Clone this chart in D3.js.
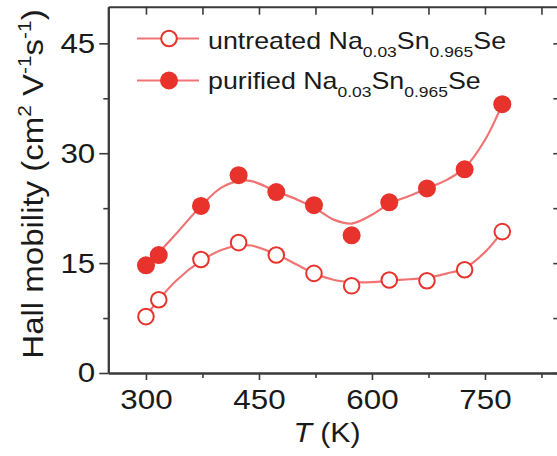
<!DOCTYPE html>
<html><head><meta charset="utf-8">
<script src="https://cdn.jsdelivr.net/npm/d3@7"></script>
<style>body{margin:0;background:#fff}svg{display:block}text{font-family:"Liberation Sans",Arial,sans-serif;fill:#1a1a1a}</style>
</head><body><svg id="c" width="557" height="456"></svg>
<script>
// Data
const temps = [300, 317, 373, 423, 473, 523, 573, 623, 673, 723, 773];
const untreated = [7.7, 10.0, 15.5, 17.8, 16.1, 13.6, 11.9, 12.7, 12.6, 14.1, 19.3];
const purified = [14.7, 16.1, 22.8, 27.0, 24.7, 22.9, 18.8, 23.3, 25.2, 27.8, 36.7];
// fitted guide curves
const fitT = [300, 317, 340, 373, 400, 423, 440, 473, 500, 523, 550, 573, 600, 623, 650, 673, 700, 723, 750, 773];
const fitUntreated = [7.8, 10.0, 12.6, 15.3, 16.8, 17.4, 17.4, 16.2, 14.8, 13.6, 12.7, 12.4, 12.4, 12.6, 12.8, 13.0, 13.6, 14.3, 16.5, 19.3];
const fitPurified = [15.0, 16.5, 19.0, 22.8, 25.3, 26.2, 26.2, 24.8, 23.7, 22.6, 20.9, 20.4, 21.6, 23.1, 24.2, 25.2, 26.4, 28.0, 31.8, 36.7];
const xTicks = [300, 450, 600, 750];
const xMinor = [375, 525, 675, 825];
const yTicks = [0, 15, 30, 45];
const yMinor = [7.5, 22.5, 37.5];

const svg = d3.select("#c");
const x = d3.scaleLinear().domain([250, 850]).range([108.3, 560.3]);
const y = d3.scaleLinear().domain([0, 50]).range([373, 6.7]);
const axisCol = "#3a3a3a";
const lineCol = "#f07474";
const markCol = "#e8322c";
const FONT = "'Liberation Sans', Arial, sans-serif";

// lines
const line = d3.line().x(d => x(d[0])).y(d => y(d[1])).curve(d3.curveCatmullRom);
svg.append("path").datum(fitT.map((t, i) => [t, fitUntreated[i]]))
  .attr("d", line).attr("fill", "none").attr("stroke", lineCol).attr("stroke-width", 2.2);
svg.append("path").datum(fitT.map((t, i) => [t, fitPurified[i]]))
  .attr("d", line).attr("fill", "none").attr("stroke", lineCol).attr("stroke-width", 2.2);

// markers
svg.append("g").selectAll("circle").data(temps.map((t, i) => [t, untreated[i]])).join("circle")
  .attr("cx", d => x(d[0])).attr("cy", d => y(d[1])).attr("r", 7.8)
  .attr("fill", "#fff").attr("stroke", markCol).attr("stroke-width", 2);
svg.append("g").selectAll("circle").data(temps.map((t, i) => [t, purified[i]])).join("circle")
  .attr("cx", d => x(d[0])).attr("cy", d => y(d[1])).attr("r", 9)
  .attr("fill", markCol);

// axes
const tickFont = 28, tickScale = 1.12;
const gB = svg.append("g").attr("transform", `translate(0,${y(0)})`);
gB.call(d3.axisBottom(x).tickValues(xTicks).tickSize(7).tickPadding(9).tickSizeOuter(0));
gB.selectAll(".tick text").attr("transform", `scale(${tickScale},1)`);
gB.append("g").call(d3.axisBottom(x).tickValues(xMinor).tickSize(5).tickFormat("").tickSizeOuter(0));
const gT = svg.append("g").attr("transform", `translate(0,${y(50)})`);
gT.call(d3.axisBottom(x).tickValues(xTicks.concat(xMinor)).tickSize(8).tickFormat("").tickSizeOuter(0));
const gL = svg.append("g").attr("transform", `translate(${x(250)},0)`);
gL.call(d3.axisLeft(y).tickValues(yTicks).tickSize(9).tickPadding(4).tickSizeOuter(0));
gL.selectAll(".tick text").attr("x", -13 / tickScale).attr("transform", `scale(${tickScale},1)`);
gL.append("g").call(d3.axisLeft(y).tickValues(yMinor).tickSize(5).tickFormat("").tickSizeOuter(0));
const gR = svg.append("g").attr("transform", `translate(${x(850)},0)`);
gR.call(d3.axisLeft(y).tickValues(yTicks.concat(yMinor)).tickSize(7).tickFormat("").tickSizeOuter(0));
svg.selectAll(".domain").attr("stroke", axisCol).attr("stroke-width", 2);
svg.selectAll(".tick line").attr("stroke", axisCol).attr("stroke-width", 1.6);
svg.selectAll(".tick text").attr("font-size", tickFont).attr("fill", "#1a1a1a").attr("font-family", FONT);

// axis titles
const xt = svg.append("g").attr("transform", "translate(327,442)")
  .append("text").attr("transform", "scale(1.08,1)").attr("text-anchor", "middle").attr("font-size", 28);
xt.append("tspan").attr("font-style", "italic").text("T");
xt.append("tspan").text(" (K)");

const yt = svg.append("g").attr("transform", "translate(43,184) rotate(-90)")
  .append("text").attr("transform", "scale(1.1,1)").attr("text-anchor", "middle").attr("font-size", 30);
yt.append("tspan").text("Hall mobility (cm");
yt.append("tspan").attr("font-size", 19).attr("dy", -12).text("2");
yt.append("tspan").attr("dy", 12).text(" V");
yt.append("tspan").attr("font-size", 19).attr("dy", -12).text("-1");
yt.append("tspan").attr("dy", 12).text("s");
yt.append("tspan").attr("font-size", 19).attr("dy", -12).text("-1");
yt.append("tspan").attr("dy", 12).text(")");

// legend
const legendNames = ["untreated", "purified"];
const legY = [38.5, 80.5];
const legBase = [48.5, 88.5];
legendNames.forEach((name, i) => {
  const g = svg.append("g");
  g.append("line").attr("x1", 137).attr("x2", 199).attr("y1", legY[i]).attr("y2", legY[i])
    .attr("stroke", lineCol).attr("stroke-width", 2.2);
  if (i === 0) g.append("circle").attr("cx", 169).attr("cy", legY[i]).attr("r", 7.8)
    .attr("fill", "#fff").attr("stroke", markCol).attr("stroke-width", 2);
  else g.append("circle").attr("cx", 169).attr("cy", legY[i]).attr("r", 9).attr("fill", markCol);
  const t = g.append("g").attr("transform", `translate(208,${legBase[i]})`)
    .append("text").attr("transform", "scale(1.165,1)").attr("font-size", 23);
  t.append("tspan").text(name + " Na");
  t.append("tspan").attr("font-size", 15).attr("dy", 8).text("0.03");
  t.append("tspan").attr("dy", -8).text("Sn");
  t.append("tspan").attr("font-size", 15).attr("dy", 8).text("0.965");
  t.append("tspan").attr("dy", -8).text("Se");
});
</script></body></html>
